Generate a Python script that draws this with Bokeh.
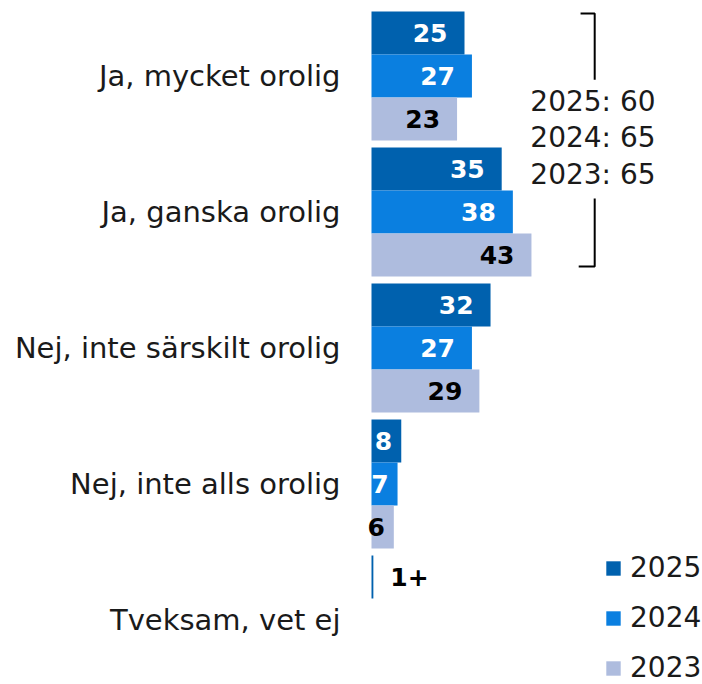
import numpy as np
from bokeh.plotting import figure
from bokeh.models import Range1d, ColumnDataSource, Legend, LegendItem
from bokeh.core.properties import value
from bokeh.embed import file_html
from bokeh.resources import INLINE

categories = ["Ja, mycket orolig", "Ja, ganska orolig", "Nej, inte särskilt orolig",
              "Nej, inte alls orolig", "Tveksam, vet ej"]
years = ["2025", "2024", "2023"]
v2025 = [25, 35, 32, 8, 0.5]
v2024 = [27, 38, 27, 7, 0]
v2023 = [23, 43, 29, 6, 0]
lab2025 = ["25", "35", "32", "8", "1+"]
lab2024 = ["27", "38", "27", "7", ""]
lab2023 = ["23", "43", "29", "6", ""]
total_years = ["2025", "2024", "2023"]
totals = [60, 65, 65]

colors = ["#0061AE", "#0A7FE0", "#AEBCDE"]
label_colors = ["white", "white", "black"]

FONT = "DejaVu Sans"
W, H = 702, 684
PXX = 3.72          # px per percent
X0 = 371            # figure px of value 0
UNIT = 43.0         # px per bar slot
GP = 136.0 / UNIT   # group pitch in slots
YTOP = -11.0 / UNIT

p = figure(width=W, height=H, output_backend="svg", toolbar_location=None,
           x_range=Range1d(-X0 / PXX, (W - X0) / PXX),
           y_range=Range1d(YTOP + H / UNIT, YTOP),
           min_border=0, outline_line_color=None)
p.xaxis.visible = False
p.yaxis.visible = False
p.xgrid.visible = False
p.ygrid.visible = False

vals = [v2025, v2024, v2023]
labs = [lab2025, lab2024, lab2023]
g = np.arange(len(categories))
renderers = []
for j, yr in enumerate(years):
    v = np.array(vals[j], dtype=float)
    y = g * GP + j + 0.5
    lab = np.array(labs[j])
    src = ColumnDataSource(dict(y=y, v=v))
    r = p.hbar(y="y", left=0, right="v", height=1.0, source=src,
               fill_color=colors[j], line_color=None)
    renderers.append(r)
    inside = v >= 2
    offs = [-9 if len(s) == 1 else -17 for s in lab[inside]]
    s_in = ColumnDataSource(dict(y=y[inside], v=v[inside], lab=lab[inside], off=offs))
    p.text(x="v", y="y", text="lab", source=s_in, x_offset="off",
           text_align="right", text_baseline="middle", text_color=label_colors[j],
           text_font=value(FONT), text_font_style="bold", text_font_size="25px")
    outside = (v > 0) & (v < 2)
    s_out = ColumnDataSource(dict(y=y[outside], v=v[outside], lab=lab[outside]))
    p.text(x="v", y="y", text="lab", source=s_out, x_offset=17,
           text_align="left", text_baseline="middle", text_color="black",
           text_font=value(FONT), text_font_style="bold", text_font_size="25px")

# category labels
csrc = ColumnDataSource(dict(x=np.zeros(len(categories)), y=g * GP + 1.5, t=categories))
p.text(x="x", y="y", text="t", source=csrc, x_offset=-31, text_align="right",
       text_baseline="middle", text_color="#1a1a1a", text_font=value(FONT),
       text_font_size="29px")

# bracket for "orolig" totals (first two groups)
bx = 60
top = 0 + 2 / UNIT
bot = GP + 3 - 10 / UNIT
p.line([bx - 3.8, bx, bx], [top, top, top + 1.54], line_color="black", line_width=2)
p.line([bx, bx, bx - 4.3], [bot - 1.58, bot, bot], line_color="black", line_width=2)
tsrc = ColumnDataSource(dict(x=[42.7] * 3, y=[2.09, 2.93, 3.79],
                             t=[f"{a}: {b}" for a, b in zip(total_years, totals)]))
p.text(x="x", y="y", text="t", source=tsrc, text_align="left", text_baseline="middle",
       text_color="#1a1a1a", text_font=value(FONT), text_font_size="28px")

legend = Legend(items=[LegendItem(label=yr, renderers=[r]) for yr, r in zip(years, renderers)],
                location=(604, 0), orientation="vertical",
                glyph_width=18, glyph_height=18, label_standoff=8,
                label_text_font=FONT, label_text_font_size="28px", label_text_color="#1a1a1a",
                label_height=30, spacing=17, padding=0, margin=0,
                border_line_color=None, background_fill_alpha=0)
p.add_layout(legend, "center")

open("out.html", "w").write(file_html(p, INLINE))
